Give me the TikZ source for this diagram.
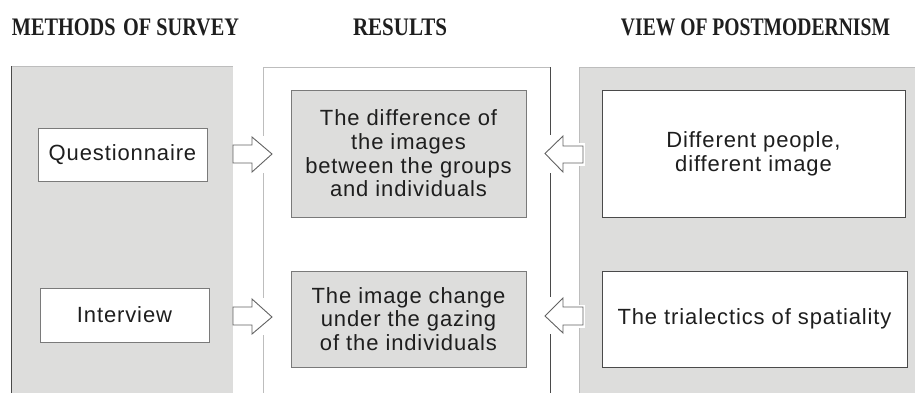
\documentclass[tikz,border=0pt]{standalone}
\usepackage{fontspec}
\setmainfont{Liberation Sans}[LetterSpace=4]
\newfontfamily\headfont{Liberation Serif}
\usepackage{graphicx}
\definecolor{panelgray}{HTML}{DDDDDC}
\definecolor{boxgray}{HTML}{DDDDDC}
\definecolor{darkline}{HTML}{4A4A4A}
\definecolor{midline}{HTML}{7A7A7A}
\definecolor{arrowline}{HTML}{626262}
\definecolor{lightline}{HTML}{BDBDBD}
\definecolor{txt}{HTML}{1E1E1E}
\tikzset{
  body/.style={font=\fontsize{22}{23.7}\selectfont, text=txt, align=center, inner sep=0pt},
  wbox/.style={body, draw=midline, line width=0.9pt, fill=white},
  dbox/.style={body, draw=darkline, line width=0.9pt, fill=white},
  gbox/.style={body, draw=midline, line width=0.9pt, fill=boxgray},
  head/.style={text=txt, inner sep=0pt},
  blockarrow/.style={draw=arrowline, line width=0.9pt, fill=white, line join=miter},
}
\newcommand{\hdr}[3]{\resizebox{#1pt}{#2pt}{\headfont\bfseries #3}}
\begin{document}
\begin{tikzpicture}[x=1pt,y=-1pt]
\useasboundingbox (0,0) rectangle (915,392);
% headers
\node[head] (h1) at (125.5,27.5) {\hdr{227}{16.7}{METHODS\hspace{0.12em} OF SURVEY}};
\node[head] (h2) at (400,27.5) {\hdr{94}{16.7}{RESULTS}};
\node[head] (h3) at (755.5,27.5) {\hdr{269}{16.7}{VIEW OF POSTMODERNISM}};
% panels
\fill[panelgray] (11,66) rectangle (233,395);
\draw[lightline, line width=1pt] (11,66) -- (233,66);
\draw[darkline, line width=1pt] (11.5,66) -- (11.5,395);
\fill[white] (263,67) rectangle (550,395);
\draw[lightline, line width=0.8pt] (263,395) -- (263,67) -- (550,67);
\draw[darkline, line width=0.9pt] (550,67) -- (550,395);
\fill[panelgray] (579,67) rectangle (918,395);
\draw[lightline, line width=0.8pt] (579,395) -- (579,67) -- (918,67);
% boxes
\node[wbox, minimum width=169pt, minimum height=53pt] (q) at (122.5,154.5) {Questionnaire};
\node[wbox, minimum width=169pt, minimum height=54pt] (iv) at (124.5,315) {Interview};
\node[gbox, minimum width=235pt, minimum height=127pt] (r1) at (408.5,153.5)
  {The difference of\\the images\\between the groups\\and individuals};
\node[gbox, minimum width=235pt, minimum height=96pt] (r2) at (408.5,319)
  {The image change\\under the gazing\\of the individuals};
\node[dbox, minimum width=303pt, minimum height=127pt] (p1) at (753.5,153.5)
  {Different people,\\different image};
\node[dbox, minimum width=305pt, minimum height=96pt] (p2) at (754.5,319)
  {The trialectics of spatiality};
% block arrows (white ground behind them)
\fill[white] (251,136) rectangle (275,173);
\fill[white] (251,298) rectangle (275,335);
\fill[white] (543,135) rectangle (565,173);
\fill[white] (563,143) rectangle (585,166);
\fill[white] (543,297) rectangle (565,334);
\fill[white] (563,305) rectangle (585,328);
\draw[blockarrow] (233,145) -- (252,145) -- (252,137) -- (272,154) -- (252,172) -- (252,163) -- (233,163) -- cycle;
\draw[blockarrow] (233,307) -- (252,307) -- (252,299) -- (272,317) -- (252,334) -- (252,325) -- (233,325) -- cycle;
\draw[blockarrow] (583,146) -- (563,146) -- (563,136) -- (545,153.5) -- (563,172) -- (563,163) -- (583,163) -- cycle;
\draw[blockarrow] (583,307) -- (563,307) -- (563,298) -- (545,316) -- (563,333) -- (563,325) -- (583,325) -- cycle;
\end{tikzpicture}
\end{document}
